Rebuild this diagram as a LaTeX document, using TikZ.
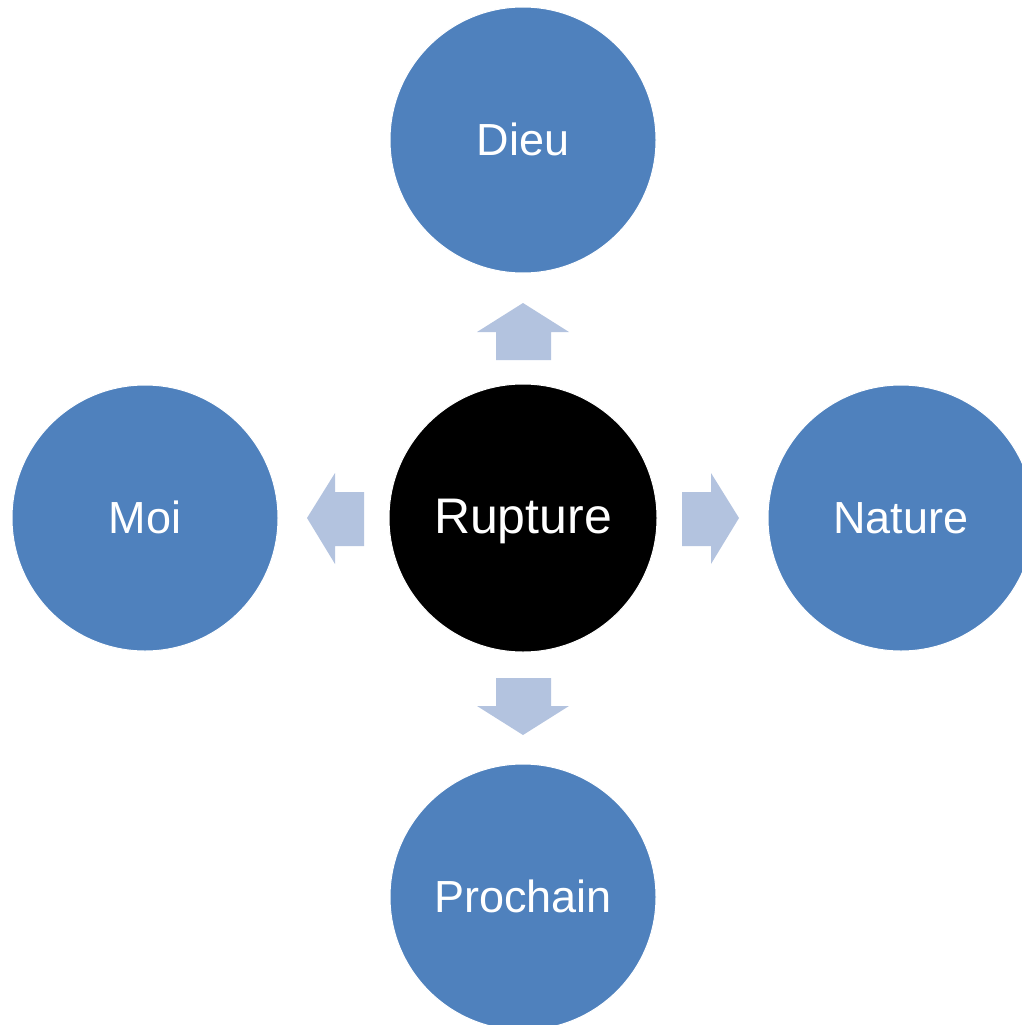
\documentclass[tikz,border=0pt]{standalone}
\usepackage{fontspec}
\setmainfont{Liberation Sans}
\definecolor{cblue}{HTML}{4F81BD}
\definecolor{carrow}{HTML}{B3C3DF}
\begin{document}
\begin{tikzpicture}[x=1pt,y=-1pt,
  outer/.style={circle,fill=cblue,draw=white,line width=1pt,minimum size=266pt,inner sep=0pt,text=white,text height=33pt,text depth=3pt,font=\fontsize{45}{48}\selectfont},
  center/.style={circle,fill=black,draw=white,line width=1pt,minimum size=268pt,inner sep=0pt,text=white,text height=36pt,text depth=6pt,font=\fontsize{50}{54}\selectfont},
  arr/.style={fill=carrow,draw=none}]
\useasboundingbox (0,0) rectangle (1022,1025);
\node[center] (rup) at (523,518) {Rupture};
\node[outer] (dieu) at (523,140) {Dieu};
\node[outer] (moi) at (145,518) {Moi};
\node[outer] (nat) at (901,518) {Nature};
\node[outer] (pro) at (523,897) {Prochain};
% up arrow
\path[arr] (496,360) -- (496,332) -- (477,332) -- (523,303) -- (569,332) -- (551,332) -- (551,360) -- cycle;
% down arrow
\path[arr] (496,678) -- (496,706) -- (477,706) -- (523,735) -- (569,706) -- (551,706) -- (551,678) -- cycle;
% left arrow
\path[arr] (364,492) -- (335,492) -- (335,473) -- (307,518) -- (335,564) -- (335,546) -- (364,546) -- cycle;
% right arrow
\path[arr] (682,492) -- (711,492) -- (711,473) -- (739,518) -- (711,564) -- (711,546) -- (682,546) -- cycle;
\end{tikzpicture}
\end{document}
